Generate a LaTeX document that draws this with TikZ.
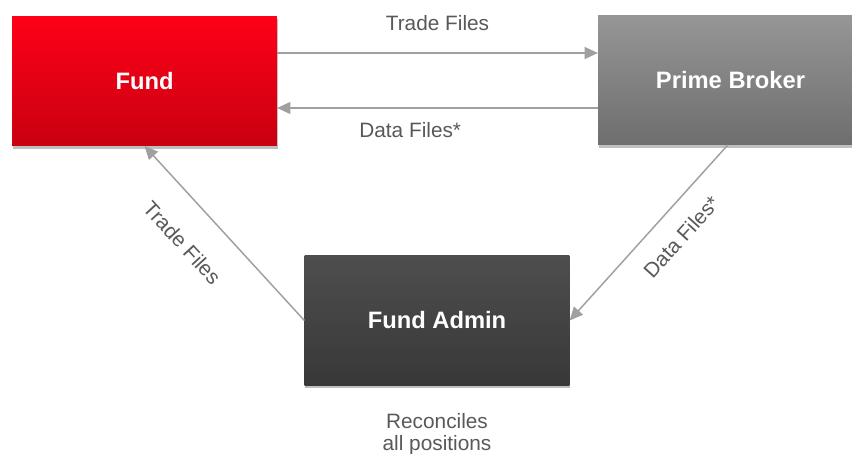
\documentclass[tikz,border=0pt]{standalone}
\usepackage{fontspec}
\setmainfont{Liberation Sans}
\usetikzlibrary{arrows.meta,shadows}
\definecolor{fundtop}{RGB}{255,0,24}
\definecolor{fundbot}{RGB}{200,0,16}
\definecolor{pbtop}{RGB}{150,150,150}
\definecolor{pbbot}{RGB}{110,110,110}
\definecolor{admtop}{RGB}{78,78,78}
\definecolor{admbot}{RGB}{56,56,56}
\definecolor{flowgray}{RGB}{160,160,160}
\definecolor{labelgray}{RGB}{89,89,89}
\tikzset{
  party/.style={minimum width=198.5pt, minimum height=97pt, inner sep=0pt,
    text=white, font=\fontsize{17.8}{20}\selectfont\bfseries,
    drop shadow={shadow xshift=0.6pt, shadow yshift=-2.2pt, opacity=0.25, fill=black}},
  flow/.style={draw=flowgray, line width=1.1pt, -{Triangle[length=10pt,width=9pt]}},
  flowlabel/.style={inner sep=0pt, text=labelgray, font=\fontsize{15.6}{16.5}\selectfont}
}
\begin{document}
\begin{tikzpicture}[x=0.75pt,y=-0.75pt]
 \clip (0,0) rectangle (852,453);
 \fill[white] (0,0) rectangle (852,453);
 % parties
 \node[party, top color=fundtop, bottom color=fundbot] (fund) at (144.5,81) {Fund};
 \node[party, top color=pbtop, bottom color=pbbot] (pb) at (730.5,80) {Prime Broker};
 \node[party, top color=admtop, bottom color=admbot] (admin) at (437,320.5) {Fund Admin};
 % flows between the boxes
 \draw[flow] ([yshift=21pt]fund.east) -- node[flowlabel, above=16pt] (tradetop) {Trade Files} ([yshift=21pt]fund.east -| pb.west);
 \draw[flow] ([yshift=-21pt]pb.west) -- node[flowlabel, pos=0.585, below=10.5pt] (datatop) {Data Files*} ([yshift=-21pt]pb.west -| fund.east);
 \draw[flow] (admin.west) -- node[flowlabel, pos=0.59, sloped, below=22pt] (tradediag) {Trade Files} (fund.south);
 \draw[flow] ([xshift=-2pt]pb.south) -- node[flowlabel, pos=0.42, sloped, below=14pt] (datadiag) {Data Files*} (admin.east);
 % note under the admin
 \node[flowlabel, align=center, below=21pt] (recon) at (admin.south) {Reconciles\\all positions};
\end{tikzpicture}
\end{document}
